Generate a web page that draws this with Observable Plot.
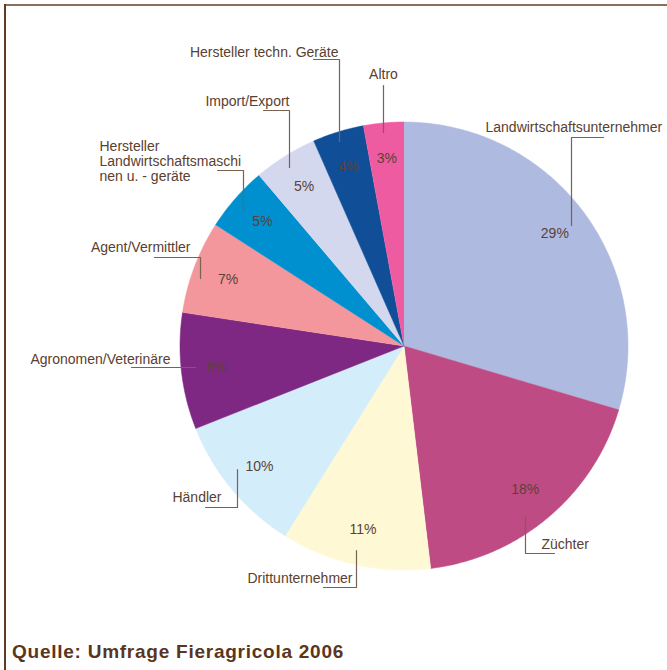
<!DOCTYPE html>
<html><head><meta charset="utf-8">
<script src="https://cdn.jsdelivr.net/npm/d3@7"></script>
<script src="https://cdn.jsdelivr.net/npm/@observablehq/plot@0.6"></script>
<style>
body{margin:0;background:#fff;}
#wrap{position:relative;width:667px;height:670px;overflow:hidden;font-family:"Liberation Sans",Arial,sans-serif;}
#frameTop{position:absolute;left:4px;top:4px;width:663px;height:0;border-top:2px solid #8b6f5c;}
#frameLeft{position:absolute;left:4px;top:4px;width:0;height:666px;border-left:2px solid #5e3b22;}
#chart{position:absolute;left:0;top:0;}
#caption{position:absolute;left:12px;top:642px;line-height:19px;font-weight:bold;font-size:19px;letter-spacing:0.75px;color:#5b3520;white-space:nowrap;}
</style></head>
<body><div id="wrap"><div id="chart"></div><div id="frameTop"></div><div id="frameLeft"></div><div id="caption">Quelle: Umfrage Fieragricola 2006</div></div>
<script>
// ---- data ----
const categories = [
  "Landwirtschaftsunternehmer",
  "Züchter",
  "Drittunternehmer",
  "Händler",
  "Agronomen/Veterinäre",
  "Agent/Vermittler",
  "Hersteller\nLandwirtschaftsmaschi\nnen u. - geräte",
  "Import/Export",
  "Hersteller techn. Geräte",
  "Altro"
];
// slice sizes as drawn
const shares = [29.6, 18.5, 10.8, 10.1, 8.4, 6.7, 4.7, 4.6, 3.7, 2.9];
// percentage labels as printed
const percentLabels = ["29%", "18%", "11%", "10%", "8%", "7%", "5%", "5%", "4%", "3%"];
const colors = ["#afbae0", "#be4b83", "#fef9d4", "#d4edfa", "#7f2883", "#f4979c", "#0090cf", "#d3d8ee", "#104f97", "#ee5ba0"];

// ---- layout (pixels) ----
const W = 667, H = 630;
const cx = 403.5, cy = 345.5, R = 224;
const labelLayout = [
  {x: 485, y: 127, anchor: "start",  path: [[603,137],[571,137],[571,225]]},
  {x: 541, y: 544, anchor: "start",  path: [[525,516],[525,553],[554,553]]},
  {x: 352, y: 578, anchor: "end",    path: [[356,550],[356,587],[323,587]]},
  {x: 221, y: 497, anchor: "end",    path: [[237,469],[237,507],[205,507]]},
  {x: 170, y: 359, anchor: "end",    path: [[131,367],[195,367]]},
  {x: 190, y: 247, anchor: "end",    path: [[154,257],[200,257],[200,278]]},
  {x: 99,  y: 161, anchor: "start",  path: [[217,170],[243,170],[243,212]]},
  {x: 289, y: 101, anchor: "end",    path: [[263,110],[289,110],[289,167]]},
  {x: 338, y: 52,  anchor: "end",    path: [[313,59],[339,59],[339,141]]},
  {x: 383, y: 74,  anchor: "middle", path: [[383,85],[383,132]]}
];

// ---- build pie geometry from data ----
const arcs = d3.pie().sort(null).startAngle(0).endAngle(2 * Math.PI)(shares);
const pt = (a, r) => [cx + r * Math.sin(a), cy - r * Math.cos(a)];
const sliceVerts = [];
arcs.forEach((a, i) => {
  sliceVerts.push({cat: categories[i], color: colors[i], x: cx, y: cy});
  const n = Math.max(4, Math.ceil((a.endAngle - a.startAngle) / 0.01));
  for (let k = 0; k <= n; k++) {
    const t = a.startAngle + (a.endAngle - a.startAngle) * k / n;
    const [x, y] = pt(t, R);
    sliceVerts.push({cat: categories[i], color: colors[i], x, y});
  }
});
const pctData = arcs.map((a, i) => {
  const m = (a.startAngle + a.endAngle) / 2;
  const [x, y] = pt(m, R * 0.84);
  return {x, y, text: percentLabels[i]};
});
const leaderPts = [];
labelLayout.forEach((l, i) => l.path.forEach(([x, y]) => leaderPts.push({cat: categories[i], x, y})));
const labels = labelLayout.map((l, i) => ({...l, text: categories[i]}));

const textColor = "#5a4030";
const chart = Plot.plot({
  width: W, height: H,
  margin: 0,
  x: {domain: [0, W], range: [0, W], axis: null},
  y: {domain: [0, H], range: [0, H], axis: null},
  color: {type: "identity"},
  style: {fontFamily: "Liberation Sans, Arial, sans-serif", background: "transparent"},
  marks: [
    Plot.line(sliceVerts, {x: "x", y: "y", z: "cat", fill: "color", stroke: "color", strokeWidth: 0.5}),
    Plot.line(leaderPts, {x: "x", y: "y", z: "cat", stroke: "#7a6252", strokeWidth: 1.2}),
    Plot.text(pctData, {x: "x", y: "y", text: "text", fontSize: 14, fill: "#5b4236"}),
    ...["start", "middle", "end"].map(anc =>
      Plot.text(labels.filter(d => d.anchor === anc), {
        x: "x", y: "y", text: "text", textAnchor: anc, lineAnchor: "middle",
        fontSize: 14, lineHeight: 1.08, fill: textColor
      }))
  ]
});
document.getElementById("chart").appendChild(chart);
</script>
</body></html>
